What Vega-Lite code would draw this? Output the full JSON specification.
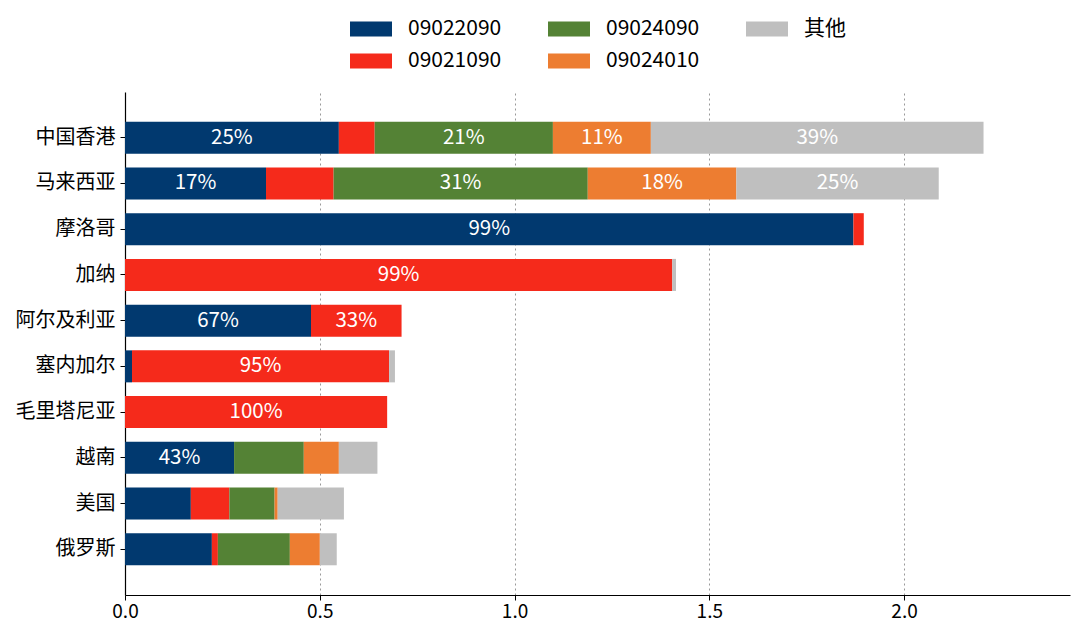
{
  "$schema": "https://vega.github.io/schema/vega-lite/v6.json",
  "autosize": {"type": "none"},
  "width": 945,
  "height": 503,
  "padding": {"left": 125, "top": 92, "right": 10, "bottom": 44},
  "background": "white",
  "config": {
    "view": {"stroke": null},
    "font": "Noto Sans CJK SC",
    "text": {"font": "Noto Sans CJK SC"}
  },
  "data": {
    "values": [
      {"country": "中国香港", "code": "09022090", "o": 1, "value": 0.549, "label": "25%"},
      {"country": "中国香港", "code": "09021090", "o": 2, "value": 0.092},
      {"country": "中国香港", "code": "09024090", "o": 3, "value": 0.4575, "label": "21%"},
      {"country": "中国香港", "code": "09024010", "o": 4, "value": 0.2515, "label": "11%"},
      {"country": "中国香港", "code": "其他", "o": 5, "value": 0.854, "label": "39%"},
      {"country": "马来西亚", "code": "09022090", "o": 1, "value": 0.362, "label": "17%"},
      {"country": "马来西亚", "code": "09021090", "o": 2, "value": 0.1735},
      {"country": "马来西亚", "code": "09024090", "o": 3, "value": 0.6525, "label": "31%"},
      {"country": "马来西亚", "code": "09024010", "o": 4, "value": 0.3815, "label": "18%"},
      {"country": "马来西亚", "code": "其他", "o": 5, "value": 0.5195, "label": "25%"},
      {"country": "摩洛哥", "code": "09022090", "o": 1, "value": 1.870, "label": "99%"},
      {"country": "摩洛哥", "code": "09021090", "o": 2, "value": 0.0266},
      {"country": "加纳", "code": "09021090", "o": 2, "value": 1.405, "label": "99%"},
      {"country": "加纳", "code": "其他", "o": 5, "value": 0.0096},
      {"country": "阿尔及利亚", "code": "09022090", "o": 1, "value": 0.4775, "label": "67%"},
      {"country": "阿尔及利亚", "code": "09021090", "o": 2, "value": 0.2325, "label": "33%"},
      {"country": "塞内加尔", "code": "09022090", "o": 1, "value": 0.018},
      {"country": "塞内加尔", "code": "09021090", "o": 2, "value": 0.660, "label": "95%"},
      {"country": "塞内加尔", "code": "其他", "o": 5, "value": 0.015},
      {"country": "毛里塔尼亚", "code": "09021090", "o": 2, "value": 0.673, "label": "100%"},
      {"country": "越南", "code": "09022090", "o": 1, "value": 0.280, "label": "43%"},
      {"country": "越南", "code": "09024090", "o": 3, "value": 0.179},
      {"country": "越南", "code": "09024010", "o": 4, "value": 0.090},
      {"country": "越南", "code": "其他", "o": 5, "value": 0.099},
      {"country": "美国", "code": "09022090", "o": 1, "value": 0.169},
      {"country": "美国", "code": "09021090", "o": 2, "value": 0.099},
      {"country": "美国", "code": "09024090", "o": 3, "value": 0.116},
      {"country": "美国", "code": "09024010", "o": 4, "value": 0.008},
      {"country": "美国", "code": "其他", "o": 5, "value": 0.170},
      {"country": "俄罗斯", "code": "09022090", "o": 1, "value": 0.223},
      {"country": "俄罗斯", "code": "09021090", "o": 2, "value": 0.0154},
      {"country": "俄罗斯", "code": "09024090", "o": 3, "value": 0.1848},
      {"country": "俄罗斯", "code": "09024010", "o": 4, "value": 0.077},
      {"country": "俄罗斯", "code": "其他", "o": 5, "value": 0.0434}
    ]
  },
  "transform": [
    {"stack": "value", "groupby": ["country"], "sort": [{"field": "o", "order": "ascending"}], "as": ["x0", "x1"]},
    {"calculate": "(datum.x0 + datum.x1) / 2", "as": "xm"}
  ],
  "encoding": {
    "y": {
      "field": "country",
      "type": "nominal",
      "sort": ["中国香港", "马来西亚", "摩洛哥", "加纳", "阿尔及利亚", "塞内加尔", "毛里塔尼亚", "越南", "美国", "俄罗斯"],
      "scale": {"paddingInner": 0.3, "paddingOuter": 0.65},
      "axis": {
        "title": null,
        "domainColor": "black",
        "domainWidth": 1.2,
        "tickColor": "black",
        "tickSize": 5,
        "labelFontSize": 20,
        "labelColor": "black",
        "labelPadding": 5,
        "labelFont": "Noto Sans CJK SC"
      }
    }
  },
  "layer": [
    {
      "mark": {"type": "bar"},
      "encoding": {
        "x": {
          "field": "x0",
          "type": "quantitative",
          "scale": {"domain": [0, 2.426], "nice": false, "zero": true},
          "axis": {
            "title": null,
            "values": [0, 0.5, 1.0, 1.5, 2.0],
            "format": ".1f",
            "labelFlush": false,
            "grid": true,
            "gridDash": [2, 3],
            "gridColor": "#999999",
            "gridWidth": 1,
            "domainColor": "black",
            "domainWidth": 1.2,
            "tickColor": "black",
            "tickSize": 5,
            "labelFontSize": 19,
            "labelColor": "black",
            "labelPadding": 2,
            "labelFont": "Noto Sans CJK SC"
          }
        },
        "x2": {"field": "x1"},
        "color": {
          "field": "code",
          "type": "nominal",
          "scale": {
            "domain": ["09022090", "09024090", "其他", "09021090", "09024010"],
            "range": ["#01396F", "#548235", "#BFBFBF", "#F52A1B", "#ED7D31"]
          },
          "legend": {
            "title": null,
            "orient": "none",
            "legendX": 225,
            "legendY": -84,
            "direction": "horizontal",
            "columns": 3,
            "columnPadding": 46,
            "rowPadding": 1,
            "symbolType": "M-1,-0.36L1,-0.36L1,0.36L-1,0.36Z",
            "symbolSize": 1764,
            "symbolStrokeWidth": 0,
            "symbolOpacity": 1,
            "labelFontSize": 21,
            "labelColor": "black",
            "labelOffset": 16,
            "labelFont": "Noto Sans CJK SC"
          }
        }
      }
    },
    {
      "transform": [{"filter": "isValid(datum.label)"}],
      "mark": {"type": "text", "color": "white", "fontSize": 20.5, "align": "center", "baseline": "middle"},
      "encoding": {
        "x": {"field": "xm", "type": "quantitative"},
        "text": {"field": "label"}
      }
    }
  ]
}
